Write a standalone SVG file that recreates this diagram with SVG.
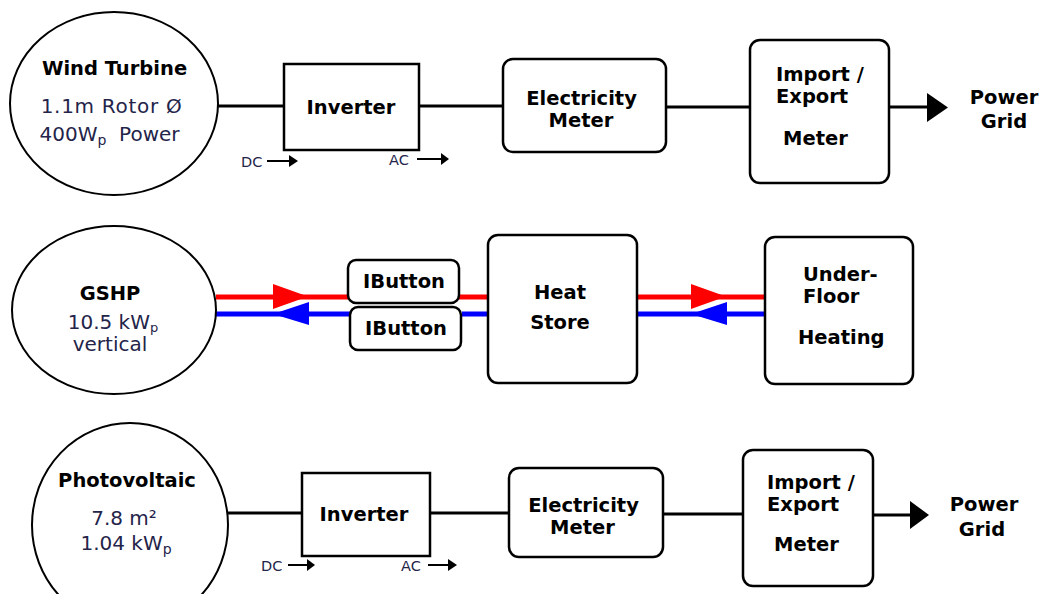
<svg xmlns="http://www.w3.org/2000/svg" width="1045" height="594" viewBox="0 0 1045 594">
<style>
.bg{fill:#ffffff}
.node{fill:#ffffff;stroke:#000000;stroke-width:2.5}
.ell{fill:#ffffff;stroke:#000000;stroke-width:2}
.b{font-family:"DejaVu Sans","Liberation Sans",sans-serif;font-weight:bold;fill:#000000;font-size:19.5px}
.r{font-family:"DejaVu Sans","Liberation Sans",sans-serif;fill:#24244a;font-size:20px}
.s{font-family:"DejaVu Sans","Liberation Sans",sans-serif;fill:#24244a;font-size:14.5px}
.c{text-anchor:middle}
.wire{stroke:#000000;stroke-width:3;fill:none}
.thin{stroke:#000000;stroke-width:2;fill:none}
.hot{stroke:#ff0000;stroke-width:5;fill:none}
.cold{stroke:#0000ff;stroke-width:5;fill:none}
.hd{fill:#000000}
.hr{fill:#ff0000}
.hb{fill:#0000ff}
</style>
<rect class="bg" x="0" y="0" width="1045" height="594"/>

<g id="connectors">
  <line class="wire" x1="218" y1="106" x2="284" y2="106"/>
  <line class="wire" x1="419" y1="106" x2="503" y2="106"/>
  <line class="wire" x1="666" y1="107" x2="750" y2="107"/>
  <line class="wire" x1="889" y1="107" x2="928" y2="107"/>
  <polygon class="hd" points="927,93 948,107.5 927,122"/>
  <line class="thin" x1="267" y1="161" x2="290" y2="161"/>
  <polygon class="hd" points="289,155 298,161 289,167"/>
  <line class="thin" x1="417" y1="159" x2="442" y2="159"/>
  <polygon class="hd" points="441,153 449,159 441,165"/>
  <line class="hot" x1="216" y1="297" x2="348" y2="297"/>
  <line class="hot" x1="459" y1="297" x2="488" y2="297"/>
  <line class="hot" x1="637" y1="297" x2="765" y2="297"/>
  <line class="cold" x1="216" y1="314" x2="350" y2="314"/>
  <line class="cold" x1="462" y1="314" x2="488" y2="314"/>
  <line class="cold" x1="637" y1="314" x2="765" y2="314"/>
  <polygon class="hr" points="273,284 308,296.5 273,309"/>
  <polygon class="hb" points="273,314 309,302 309,325"/>
  <polygon class="hr" points="691,284 726,296.5 691,309"/>
  <polygon class="hb" points="691,314 727,302 727,325"/>
  <line class="wire" x1="228" y1="513" x2="302" y2="513"/>
  <line class="wire" x1="430" y1="513" x2="509" y2="513"/>
  <line class="wire" x1="663" y1="514" x2="743" y2="514"/>
  <line class="wire" x1="873" y1="515" x2="911" y2="515"/>
  <polygon class="hd" points="910,501 929,515 910,529"/>
  <line class="thin" x1="288" y1="565" x2="308" y2="565"/>
  <polygon class="hd" points="307,559 315,565 307,571"/>
  <line class="thin" x1="428" y1="565" x2="449" y2="565"/>
  <polygon class="hd" points="448,559 457,565 448,571"/>
</g>

<g id="wind-turbine">
  <ellipse class="ell" cx="114" cy="103.5" rx="104" ry="91.5"/>
  <text class="b c" x="114.5" y="75" font-size="20">Wind Turbine</text>
  <text class="r c" x="111.5" y="113" letter-spacing="0.7">1.1m Rotor Ø</text>
  <text class="r c" x="109.5" y="141" xml:space="preserve">400W<tspan font-size="14" dy="4">p</tspan><tspan dy="-4">  Power</tspan></text>
</g>

<g id="inverter-1">
  <rect class="node" x="284" y="64" width="135" height="86"/>
  <text class="b c" x="351" y="114" font-size="20.5">Inverter</text>
</g>
<g id="dc-ac-1">
  <text class="s" x="241" y="167">DC</text>
  <text class="s" x="389" y="165">AC</text>
</g>

<g id="electricity-meter-1">
  <rect class="node" x="503" y="59" width="163" height="93" rx="10"/>
  <text class="b c" x="581.5" y="105">Electricity</text>
  <text class="b c" x="581" y="127">Meter</text>
</g>

<g id="import-export-1">
  <rect class="node" x="750" y="40" width="139" height="143" rx="10"/>
  <text class="b" x="776" y="81" font-size="20">Import /</text>
  <text class="b" x="776" y="103" font-size="20">Export</text>
  <text class="b" x="783" y="145" font-size="20">Meter</text>
</g>

<g id="power-grid-1">
  <text class="b c" x="1004" y="104" font-size="20">Power</text>
  <text class="b c" x="1004" y="128" font-size="20">Grid</text>
</g>

<g id="gshp">
  <ellipse class="ell" cx="114" cy="310" rx="102" ry="84"/>
  <text class="b c" x="110" y="300">GSHP</text>
  <text class="r c" x="113" y="329">10.5 kW<tspan font-size="13" dy="3">p</tspan></text>
  <text class="r c" x="110" y="351">vertical</text>
</g>

<g id="ibutton-1">
  <rect class="node" x="348" y="260" width="111" height="43" rx="8"/>
  <text class="b c" x="404" y="288">IButton</text>
</g>
<g id="ibutton-2">
  <rect class="node" x="350" y="307" width="111" height="43" rx="8"/>
  <text class="b c" x="406" y="335">IButton</text>
</g>

<g id="heat-store">
  <rect class="node" x="488" y="235" width="149" height="148" rx="10"/>
  <text class="b c" x="560" y="299">Heat</text>
  <text class="b c" x="560" y="329">Store</text>
</g>

<g id="underfloor-heating">
  <rect class="node" x="765" y="237" width="148" height="147" rx="10"/>
  <text class="b" x="803" y="281">Under-</text>
  <text class="b" x="803" y="303">Floor</text>
  <text class="b" x="798" y="344">Heating</text>
</g>

<g id="photovoltaic">
  <ellipse class="ell" cx="130" cy="525" rx="98" ry="102"/>
  <text class="b c" x="127" y="487" font-size="18.7">Photovoltaic</text>
  <text class="r c" x="124" y="525">7.8 m²</text>
  <text class="r c" x="126" y="550">1.04 kW<tspan font-size="14" dy="4">p</tspan></text>
</g>

<g id="inverter-2">
  <rect class="node" x="302" y="473" width="128" height="83"/>
  <text class="b c" x="364" y="521">Inverter</text>
</g>
<g id="dc-ac-2">
  <text class="s" x="261" y="571">DC</text>
  <text class="s" x="401" y="571">AC</text>
</g>

<g id="electricity-meter-2">
  <rect class="node" x="509" y="468" width="154" height="89" rx="10"/>
  <text class="b c" x="583.5" y="512" font-size="18">Electricity</text>
  <text class="b c" x="582.5" y="534" font-size="18">Meter</text>
</g>

<g id="import-export-2">
  <rect class="node" x="743" y="450" width="130" height="136" rx="10"/>
  <text class="b" x="767" y="489" font-size="19">Import /</text>
  <text class="b" x="767" y="511" font-size="19">Export</text>
  <text class="b" x="774" y="551" font-size="19">Meter</text>
</g>

<g id="power-grid-2">
  <text class="b c" x="984" y="511" font-size="19.5">Power</text>
  <text class="b c" x="982" y="536" font-size="19.5">Grid</text>
</g>
</svg>
